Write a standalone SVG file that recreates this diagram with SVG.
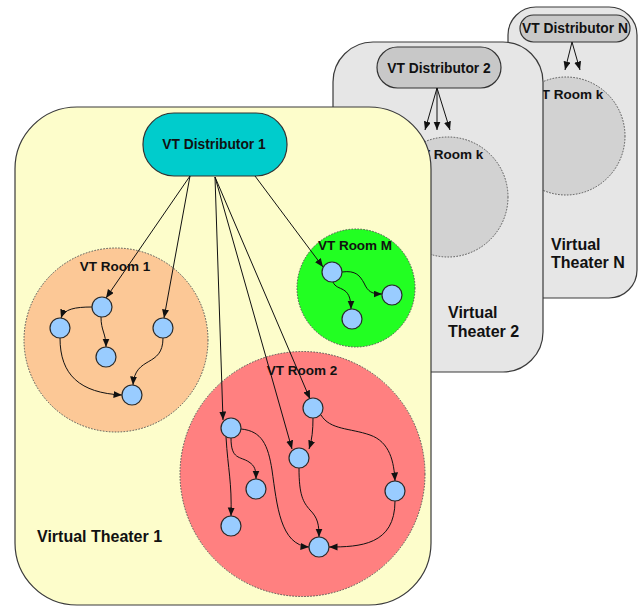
<svg xmlns="http://www.w3.org/2000/svg" width="638" height="606" viewBox="0 0 638 606">
  <style>
    .theater { stroke: #3a3a3a; stroke-width: 1.2; }
    .t1 { fill: #fdfdcb; }
    .tg { fill: #e6e6e6; }
    .room { stroke: #555; stroke-width: 1; stroke-dasharray: 1.6 1.4; }
    .grayroom { fill: #d2d2d2; }
    .dist { stroke: #333; stroke-width: 1.2; }
    .node { fill: #99ccff; stroke: #2a2a2a; stroke-width: 1.2; }
    .lbl { font-family: "Liberation Sans", Arial, sans-serif; font-weight: bold; fill: #111; }
    .big { font-size: 16px; }
    .mid { font-size: 13.8px; }
    .sm { font-size: 13.5px; }
    .edge { fill: none; stroke: #111; stroke-width: 1; marker-end: url(#arr); }
  </style>
  <defs>
    <marker id="arr" markerWidth="9" markerHeight="8" refX="8.5" refY="3.5" orient="auto" markerUnits="userSpaceOnUse">
      <path d="M0,0 L8.5,3.5 L0,7 Z" fill="#111"/>
    </marker>
  </defs>
  <rect width="638" height="606" fill="#ffffff"/>

  <!-- Virtual Theater N (back) -->
  <g id="theaterN">
    <rect class="theater tg" x="508" y="7" width="129" height="291" rx="28"/>
    <circle class="room grayroom" cx="566" cy="136" r="59"/>
    <text class="lbl sm" x="568" y="99" text-anchor="middle">VT Room k</text>
    <text class="lbl big" x="551" y="250">Virtual</text>
    <text class="lbl big" x="551" y="268">Theater N</text>
  </g>
  <g id="distN">
    <rect class="dist" x="520" y="15" width="110" height="27" rx="13.5" fill="#c8c8c8"/>
    <text class="lbl mid" x="575" y="33" text-anchor="middle">VT Distributor N</text>
  </g>
  <g id="edgesN">
    <path class="edge" d="M572,42 L565,70"/>
    <path class="edge" d="M572,42 L580,70"/>
  </g>

  <!-- Virtual Theater 2 (middle) -->
  <g id="theater2">
    <rect class="theater tg" x="333" y="42" width="210" height="330" rx="40"/>
    <circle class="room grayroom" cx="448" cy="197" r="60"/>
    <text class="lbl sm" x="448" y="159" text-anchor="middle">VT Room k</text>
    <text class="lbl big" x="448" y="318">Virtual</text>
    <text class="lbl big" x="448" y="337">Theater 2</text>
  </g>
  <g id="dist2">
    <rect class="dist" x="377" y="47" width="124" height="41" rx="20.5" fill="#c8c8c8"/>
    <text class="lbl mid" x="439" y="73" text-anchor="middle">VT Distributor 2</text>
  </g>
  <g id="edges2">
    <path class="edge" d="M437,88 L425,130"/>
    <path class="edge" d="M437,88 L437,130"/>
    <path class="edge" d="M437,88 L450,130"/>
  </g>

  <!-- Virtual Theater 1 (front) -->
  <g id="theater1">
    <rect class="theater t1" x="15" y="107" width="416" height="498" rx="62"/>
    <text class="lbl big" x="37" y="542">Virtual Theater 1</text>
  </g>

  <g id="room1">
    <circle class="room" cx="116" cy="340" r="92" fill="#fcc896"/>
    <text class="lbl sm" x="115" y="271" text-anchor="middle">VT Room 1</text>
  </g>
  <g id="roomM">
    <circle class="room" cx="356" cy="288" r="59" fill="#22ff22"/>
    <text class="lbl sm" x="355" y="250" text-anchor="middle">VT Room M</text>
  </g>
  <g id="room2">
    <circle class="room" cx="302.5" cy="474" r="122.5" fill="#ff8080"/>
    <text class="lbl sm" x="302" y="375" text-anchor="middle">VT Room 2</text>
  </g>

  <g id="dist1">
    <rect class="dist" x="143" y="113" width="144" height="63" rx="31" fill="#00cccc"/>
    <text class="lbl mid" x="214" y="149" text-anchor="middle">VT Distributor 1</text>
  </g>

  <!-- connectors of theater 1 -->
  <g id="edges1">
    <path class="edge" d="M190,176 L106,298"/>
    <path class="edge" d="M190,176 L164,318"/>
    <path class="edge" d="M215,177 L223,420"/>
    <path class="edge" d="M215,177 L292,449"/>
    <path class="edge" d="M215,177 L310,399"/>
    <path class="edge" d="M255,176 L323,267"/>

    <path class="edge" d="M92,307 C75,307 64,309 61,318"/>
    <path class="edge" d="M101,317 C101,331 106,333 106,347"/>
    <path class="edge" d="M60,338 C60,375 80,393 122,395"/>
    <path class="edge" d="M163,338 C163,368 135,355 133,385"/>

    <path class="edge" d="M342,272 C356,270 360,276 364,283 C368,292 372,294 382,294"/>
    <path class="edge" d="M333,282 C337,292 351,284 351,309"/>

    <path class="edge" d="M226,437 C228,470 232,482 231,516"/>
    <path class="edge" d="M231,438 C231,460 240,456 249,462 C255,466 256,470 256,479"/>
    <path class="edge" d="M241,429 C262,431 268,445 272,470 C277,505 280,545 309,547"/>
    <path class="edge" d="M313,418 C313,430 312,440 309,449"/>
    <path class="edge" d="M321,415 C330,430 350,428 370,435 C390,442 394,462 395,481"/>
    <path class="edge" d="M299,468 C299,495 303,502 310,510 C318,518 319,525 319,537"/>
    <path class="edge" d="M395,501 C395,545 360,547 329,547"/>
  </g>

  <!-- room 1 members -->
  <g id="r1a"><circle class="node" cx="102" cy="307" r="10"/></g>
  <g id="r1b"><circle class="node" cx="60" cy="328" r="10"/></g>
  <g id="r1c"><circle class="node" cx="163" cy="328" r="10"/></g>
  <g id="r1d"><circle class="node" cx="106" cy="357" r="10"/></g>
  <g id="r1e"><circle class="node" cx="132" cy="395" r="10"/></g>
  <!-- room M members -->
  <g id="rma"><circle class="node" cx="332" cy="272" r="10"/></g>
  <g id="rmb"><circle class="node" cx="392" cy="295" r="10"/></g>
  <g id="rmc"><circle class="node" cx="352" cy="319" r="10"/></g>
  <!-- room 2 members -->
  <g id="r2a"><circle class="node" cx="231" cy="428" r="10"/></g>
  <g id="r2b"><circle class="node" cx="313" cy="408" r="10"/></g>
  <g id="r2c"><circle class="node" cx="299" cy="458" r="10"/></g>
  <g id="r2d"><circle class="node" cx="256" cy="489" r="10"/></g>
  <g id="r2e"><circle class="node" cx="395" cy="491" r="10"/></g>
  <g id="r2f"><circle class="node" cx="231" cy="526" r="10"/></g>
  <g id="r2g"><circle class="node" cx="319" cy="547" r="10"/></g>
</svg>
